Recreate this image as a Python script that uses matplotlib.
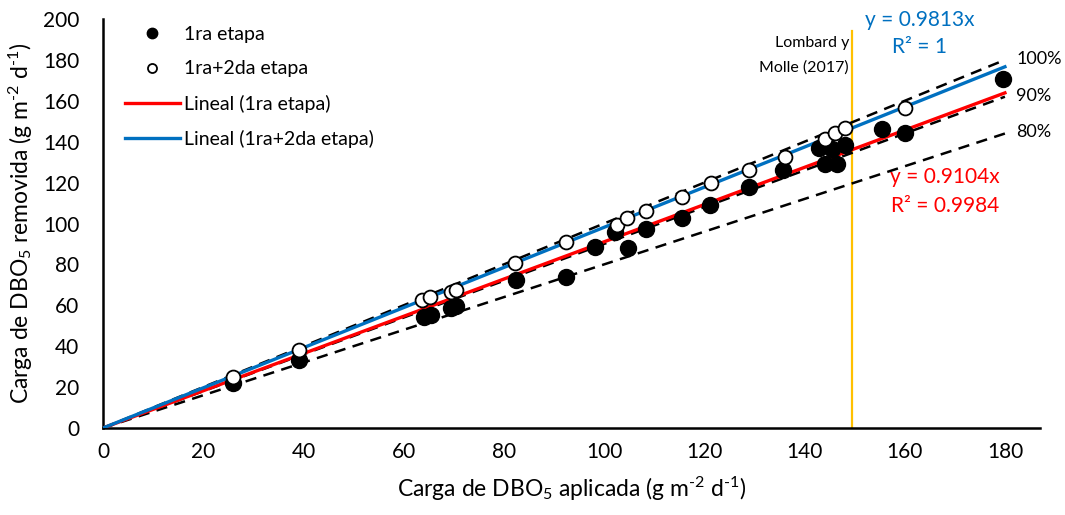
import matplotlib
matplotlib.use("Agg")
import matplotlib.pyplot as plt
import numpy as np

plt.rcParams['font.family'] = ['Lato', 'DejaVu Sans']
plt.rcParams['mathtext.fontset'] = 'custom'
plt.rcParams['mathtext.rm'] = 'Lato'
plt.rcParams['mathtext.it'] = 'Lato:italic'

# BOD5 loading applied vs removed (g m-2 d-1)
x_etapa1 = [25.9, 39.1, 64.0, 65.5, 69.5, 70.5, 82.4, 92.5, 98.2, 102.2, 104.7,
            108.3, 115.5, 121.2, 129.0, 135.8, 142.8, 144.1, 145.4, 146.4, 148.1,
            155.4, 160.1, 179.7]
y_etapa1 = [22.0, 33.2, 54.5, 55.5, 58.5, 59.5, 72.4, 74.0, 88.4, 96.0, 87.9,
            97.3, 102.5, 109.0, 118.0, 126.2, 136.8, 129.1, 136.3, 129.1, 138.4,
            146.0, 144.4, 170.5]

x_etapa12 = [26.0, 39.1, 63.6, 65.3, 69.5, 70.5, 82.2, 92.5, 102.5, 104.6, 108.3,
             115.5, 121.3, 129.0, 136.1, 144.1, 146.1, 148.1, 160.1]
y_etapa12 = [25.0, 38.0, 62.6, 63.9, 66.5, 67.5, 80.5, 91.1, 99.3, 102.8, 106.1,
             113.2, 119.6, 126.2, 132.7, 141.3, 144.4, 146.5, 156.3]

slope_etapa1 = 0.9104
slope_etapa12 = 0.9813
r2_etapa1 = 0.9984
r2_etapa12 = 1

efficiencies = [1.0, 0.9, 0.8]
efficiency_labels = ["100%", "90%", "80%"]

x_fit_max = 180
x_lombard = 149.5

fig = plt.figure(figsize=(10.65, 5.15), dpi=100)
ax = fig.add_axes([103 / 1065, 87 / 515, (1040 - 103) / 1065, (428 - 19) / 515])

# reference efficiency lines
xr = np.array([0, x_fit_max])
for eff, lab in zip(efficiencies, efficiency_labels):
    ax.plot(xr, eff * xr, color='black', lw=1.8, ls=(0, (4.5, 3)), zorder=2)
    ax.text(x_fit_max + 2.3, eff * x_fit_max + 0.5, lab, fontsize=13,
            ha='left', va='center', color='black')

# linear fits through the origin
ax.plot(xr, slope_etapa1 * xr, color='#FF0000', lw=2.4, zorder=3,
        label='Lineal (1ra etapa)')
ax.plot(xr, slope_etapa12 * xr, color='#0070C0', lw=2.4, zorder=3,
        label='Lineal (1ra+2da etapa)')

ax.plot(x_etapa1, y_etapa1, 'o', color='black', ms=11.5, ls='none', zorder=4,
        label='1ra etapa')
ax.plot(x_etapa12, y_etapa12, 'o', mfc='white', mec='black', mew=1.3, ms=10,
        ls='none', zorder=5, label='1ra+2da etapa')

# Lombard y Molle (2017) limit
ax.plot([x_lombard, x_lombard], [0, 194], color='#FFC000', lw=1.6, zorder=1)
ax.text(x_lombard - 0.6, 188.5, "Lombard y", fontsize=11.5, ha='right', va='center')
ax.text(x_lombard - 0.6, 176.5, "Molle (2017)", fontsize=11.5, ha='right', va='center')

ax.text(163, 199.5, f"y = {slope_etapa12}x", color='#0070C0', fontsize=15,
        ha='center', va='center')
ax.text(163, 186.3, f"R² = {r2_etapa12}", color='#0070C0', fontsize=15,
        ha='center', va='center')
ax.text(168, 122.7, f"y = {slope_etapa1}x", color='#FF0000', fontsize=15,
        ha='center', va='center')
ax.text(168, 108.6, f"R² = {r2_etapa1}", color='#FF0000', fontsize=15,
        ha='center', va='center')

ax.set_xlim(0, 187)
ax.set_ylim(0, 200)
ax.set_xticks(np.arange(0, 181, 20))
ax.set_yticks(np.arange(0, 201, 20))
ax.tick_params(length=0, labelsize=15)
ax.tick_params(axis='x', pad=10)
ax.tick_params(axis='y', pad=17)
for s in ['top', 'right']:
    ax.spines[s].set_visible(False)
for s in ['left', 'bottom']:
    ax.spines[s].set_linewidth(1.8)
    ax.spines[s].set_color('black')

ax.set_xlabel(r"Carga de DBO$_\mathregular{5}$ aplicada (g m$^\text{-2}$ d$^\text{-1}$)",
              fontsize=16.5, labelpad=9)
ax.set_ylabel(r"Carga de DBO$_\mathregular{5}$ removida (g m$^\text{-2}$ d$^\text{-1}$)",
              fontsize=16.5, labelpad=6)

handles, labels = ax.get_legend_handles_labels()
order = [2, 3, 0, 1]
leg = ax.legend([handles[i] for i in order], [labels[i] for i in order],
                loc='upper left', bbox_to_anchor=(0.005, 1.025), frameon=False,
                fontsize=14, handlelength=2.8, labelspacing=0.88,
                markerscale=0.65, handletextpad=0.2)

fig.savefig("out.png", dpi=100)
